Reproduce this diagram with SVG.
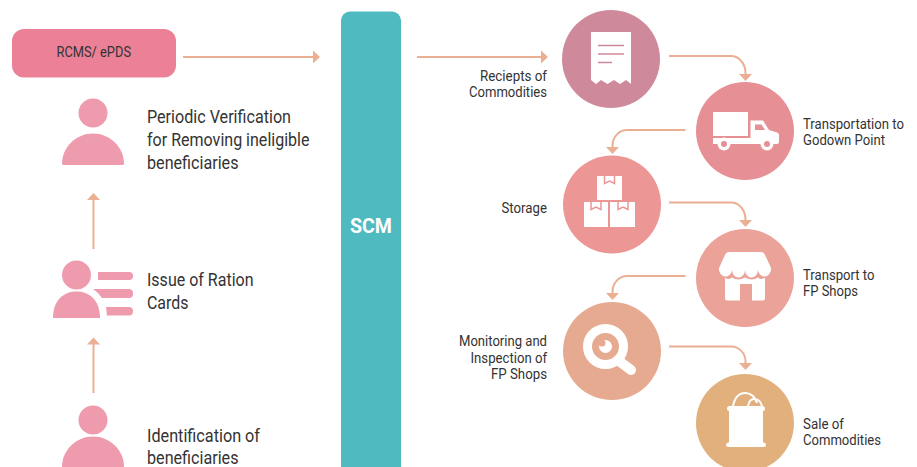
<svg xmlns="http://www.w3.org/2000/svg" width="917" height="467" viewBox="0 0 917 467">
<style>
text{font-family:Roboto,"Liberation Sans",sans-serif;fill:#333333}
.l{font-size:17.500px}
.s{font-size:14px}
.e{text-anchor:end}
.c{fill:none;stroke:#EBB093;stroke-width:2}
.w{fill:#fff}
.p{fill:#EF9BAE}
</style>
<defs>
<marker id="a" markerUnits="userSpaceOnUse" markerWidth="14" markerHeight="14" refX="1" refY="7" orient="auto"><path d="M0 0.500L7 7L0 13.500Z" fill="#EBB093"/></marker>
<path id="person" d="M-31 66C-31 49-17 35.500 0 35.500C17 35.500 31 49 31 66Q31 67 29 67H-29Q-31 67-31 66Z"/>
</defs>
<g id="connectors">
<path class="c" d="M183 57H314" marker-end="url(#a)"/>
<path class="c" d="M417 57H542" marker-end="url(#a)"/>
<path class="c" d="M93.500 249V199" marker-end="url(#a)"/>
<path class="c" d="M93.500 393V343.500" marker-end="url(#a)"/>
<path class="c" d="M669 56H731A14.500 17 0 0 1 745.500 73V75" marker-end="url(#a)"/>
<path class="c" d="M685.500 130H627A14.500 16 0 0 0 612.500 146V148" marker-end="url(#a)"/>
<path class="c" d="M669 202.500H731A14.500 17 0 0 1 745.500 219.500V221" marker-end="url(#a)"/>
<path class="c" d="M685.500 276H627A14.500 16 0 0 0 612.500 292V294" marker-end="url(#a)"/>
<path class="c" d="M669 346.500H731A14.500 15 0 0 1 745.500 361.500V364" marker-end="url(#a)"/>
</g>
<g id="rcms"><rect x="12" y="29" width="164" height="48.500" rx="12" fill="#EC8097"/><text class="s" x="56.500" y="57" textLength="74.500" lengthAdjust="spacingAndGlyphs">RCMS/ ePDS</text></g>
<g id="verify"><circle cx="93" cy="113" r="14.500" class="p"/><use href="#person" x="93" y="98" class="p"/><text class="l" x="147" y="123" textLength="144" lengthAdjust="spacingAndGlyphs">Periodic Verification</text><text class="l" x="147" y="146" textLength="162.500" lengthAdjust="spacingAndGlyphs">for Removing ineligible</text><text class="l" x="147" y="169" textLength="91.500" lengthAdjust="spacingAndGlyphs">beneficiaries</text></g>
<g id="issue"><circle cx="76.500" cy="275" r="14.500" class="p"/><path class="p" d="M53 318C53 302 62 291.500 76.500 291.500C91 291.500 100 302 100 318Z"/><path class="p" d="M98 272H129Q133 272 133 276Q133 280 129 280H98Z"/><path class="p" d="M93 289H129Q133 289 133 293.500Q133 298 129 298H102Q99 293 93 289Z"/><path class="p" d="M106 307H129Q133 307 133 311Q133 315.500 129 315.500H107Z"/><text class="l" x="147" y="286" textLength="106.500" lengthAdjust="spacingAndGlyphs">Issue of Ration</text><text class="l" x="147" y="309" textLength="41.500" lengthAdjust="spacingAndGlyphs">Cards</text></g>
<g id="identify"><circle cx="93" cy="420" r="14.500" class="p"/><use href="#person" x="93" y="401" class="p"/><text class="l" x="147" y="442" textLength="113" lengthAdjust="spacingAndGlyphs">Identification of</text><text class="l" x="147" y="464" textLength="91.500" lengthAdjust="spacingAndGlyphs">beneficiaries</text></g>
<g id="scm"><rect x="341" y="11.500" width="60" height="470" rx="9" fill="#4FBAC0"/><text x="350" y="233" font-size="21" font-weight="700" textLength="42" lengthAdjust="spacingAndGlyphs" style="fill:#fff">SCM</text></g>
<g id="receipts"><circle cx="611" cy="59" r="49" fill="#CE8A9B"/><path class="w" d="M591 32H631V84L626 80L620 84L614 80L607.500 84L601 80L596 84L591 80Z"/><path d="M598 45.500H624M598 54H624M598 62.500H612" stroke="#CE8A9B" stroke-width="1.500" fill="none"/><text class="s" x="480" y="81" textLength="67" lengthAdjust="spacingAndGlyphs">Reciepts of</text><text class="s" x="469" y="97" textLength="78" lengthAdjust="spacingAndGlyphs">Commodities</text></g>
<g id="transport"><circle cx="745" cy="131" r="49" fill="#E69095"/><path class="w" d="M713 112H748V136H713ZM750.500 120.500H763L769 130L777 132.500Q779 133 779 135V142Q779 144 777 144H713V138H750.500Z"/><circle cx="724" cy="144" r="6.500" class="w"/><circle cx="767" cy="144" r="6.500" class="w"/><circle cx="724" cy="144" r="3" fill="#E69095"/><circle cx="767" cy="144" r="3" fill="#E69095"/><path d="M755 124.500H761.500L765 130H755Z" fill="#E69095"/><text class="s" x="803" y="129" textLength="101" lengthAdjust="spacingAndGlyphs">Transportation to</text><text class="s" x="803" y="145" textLength="82" lengthAdjust="spacingAndGlyphs">Godown Point</text></g>
<g id="storage"><circle cx="612" cy="204.500" r="49" fill="#ED9696"/><path class="w" d="M597 176H622V200H597ZM584 202H608V227H584ZM610 202H635V227H610Z"/><path d="M604.500 176V183.500L609.500 181L614.500 183.500V176M591 202V209.500L596 207L601 209.500V202M618 202V209.500L623 207L628 209.500V202" fill="#fff" stroke="#ED9696" stroke-width="1.500"/><text class="s" x="501.500" y="213" textLength="45.500" lengthAdjust="spacingAndGlyphs">Storage</text></g>
<g id="shops"><circle cx="745" cy="278" r="49" fill="#EAA299"/><path class="w" d="M729 252H761Q764 252 765.500 256L771 268A6.500 7.500 0 0 1 758 270A6.500 7.500 0 0 1 745 270A6.500 7.500 0 0 1 732 270A6.500 7.500 0 0 1 719 268L724.500 256Q726 252 729 252Z"/><path class="w" d="M725 278Q730 280 732 277.500Q738 281.500 745 277.500Q752 281.500 758 277.500Q760 280 765 278V298Q765 300.500 763 300.500H752V284H740V300.500H727Q725 300.500 725 298Z"/><text class="s" x="803" y="280" textLength="71.500" lengthAdjust="spacingAndGlyphs">Transport to</text><text class="s" x="803" y="296" textLength="55" lengthAdjust="spacingAndGlyphs">FP Shops</text></g>
<g id="inspection"><circle cx="612" cy="351" r="49" fill="#E6AA90"/><circle cx="605.500" cy="346.500" r="18" fill="none" stroke="#fff" stroke-width="9"/><path d="M619 361L631 370" stroke="#fff" stroke-width="10" stroke-linecap="round"/><circle cx="605.500" cy="346.500" r="6.500" class="w"/><circle cx="602" cy="343" r="3.500" fill="#E6AA90"/><text class="s" x="459" y="346" textLength="88" lengthAdjust="spacingAndGlyphs">Monitoring and</text><text class="s" x="470.500" y="363" textLength="76.500" lengthAdjust="spacingAndGlyphs">Inspection of</text><text class="s" x="491" y="379" textLength="56" lengthAdjust="spacingAndGlyphs">FP Shops</text></g>
<g id="sale"><circle cx="745" cy="423" r="49" fill="#E2B07C"/><path class="w" d="M729 406H762Q765 406 765 408.500Q765 411 763 411V442.500H764Q766 443 766 445Q766 447 764 447H728Q726 447 726 445Q726 443 728 442.500H729V411Q727 411 727 408.500Q727 406 729 406Z"/><path d="M733 407C734 398 739 393 745 393C751 393 755 397 757 403M748 406C749 401 751 399 754 399C758 399 761 402 762 406" fill="none" stroke="#fff" stroke-width="2"/><text class="s" x="803" y="429" textLength="41" lengthAdjust="spacingAndGlyphs">Sale of</text><text class="s" x="803" y="445" textLength="78" lengthAdjust="spacingAndGlyphs">Commodities</text></g>
</svg>
